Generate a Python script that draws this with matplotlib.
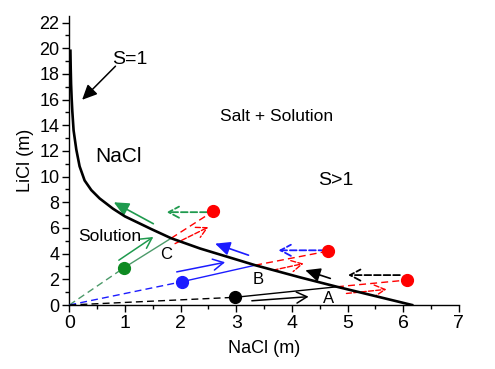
import matplotlib
matplotlib.use("Agg")
import matplotlib.pyplot as plt
from matplotlib.ticker import MultipleLocator

plt.rcParams['font.family'] = ['Liberation Sans', 'DejaVu Sans']

# solubility boundary (NaCl, LiCl)
curve_x = [0.02, 0.025, 0.032, 0.042, 0.054, 0.077, 0.126, 0.185, 0.275, 0.395, 0.545, 0.785,
           1.0, 1.48, 1.83, 2.35, 3.34, 4.15, 4.81, 6.16]
curve_y = [19.8, 18.5, 17.2, 16.1, 15.1, 13.6, 12.1, 10.8, 9.7, 8.95, 8.3, 7.5,
           6.9, 5.9, 5.2, 4.4, 3.1, 2.15, 1.42, 0.0]

# starting solutions (green, blue, black) and where they hit the boundary (C, B, A)
start_x = [0.99, 2.02, 2.98]
start_y = [2.92, 1.81, 0.60]
hit_x = [1.83, 3.34, 4.81]
hit_y = [5.20, 3.10, 1.42]
hit_labels = ['C', 'B', 'A']
label_x = [1.74, 3.40, 4.66]
label_y = [3.95, 2.00, 0.52]

# end points (red dots)
end_x = [2.59, 4.64, 6.06]
end_y = [7.31, 4.19, 1.94]

# solid open arrows along the path
path_arr_x0 = [0.89, 1.93, 3.28]
path_arr_y0 = [3.49, 2.58, 0.33]
path_arr_x1 = [1.51, 2.80, 4.30]
path_arr_y1 = [5.30, 3.33, 0.65]

# filled arrows back along the boundary
back_arr_x0 = [1.51, 3.22, 4.69]
back_arr_y0 = [6.33, 3.88, 2.07]
back_arr_x1 = [0.80, 2.62, 4.24]
back_arr_y1 = [8.00, 4.78, 2.71]

# red dashed arrows past the boundary
red_arr_x0 = [1.90, 3.66, 4.98]
red_arr_y0 = [4.78, 2.71, 0.90]
red_arr_x1 = [2.50, 4.21, 5.70]
red_arr_y1 = [6.07, 3.23, 1.22]

# dashed arrows pointing back from the red dots
left_arr_x0 = [2.47, 4.60, 5.94]
left_arr_y0 = [7.23, 4.26, 2.33]
left_arr_x1 = [1.75, 3.76, 5.01]
left_arr_y1 = [7.23, 4.26, 2.33]

# S=1 pointer
s1_text = (1.08, 19.1)
s1_arrow_tail = (0.83, 18.6)
s1_arrow_tip = (0.23, 15.98)

line_colors = ['#4c9a6a', '#1c1cff', 'black']
arrow_colors = ['#1f9a4e', '#1c1cff', 'black']
dot_colors = ['#0e8a22', '#1c1cff', 'black']
red = '#ff0000'
dash = (0, (5, 3))

fig = plt.figure(figsize=(4.95, 3.69), dpi=100)
ax = fig.add_axes([0.14, 0.1734, 0.787, 0.783])

ax.plot(curve_x, curve_y, color='black', lw=1.9, zorder=4, solid_joinstyle='round')

for i in range(3):
    c = line_colors[i]
    # dilution line from origin to starting point
    ax.plot([0, start_x[i]], [0, start_y[i]], color=c, lw=1.0, ls=dash, zorder=3)
    # evaporation path to the boundary
    ax.plot([start_x[i], hit_x[i]], [start_y[i], hit_y[i]], color=c, lw=1.0, zorder=3)
    # beyond boundary to red dot
    ax.plot([hit_x[i], end_x[i]], [hit_y[i], end_y[i]], color=red, lw=1.0, ls=dash, zorder=3)
    ax.plot(start_x[i], start_y[i], 'o', color=dot_colors[i], ms=8.5, zorder=5)
    ax.plot(end_x[i], end_y[i], 'o', color=red, ms=8.5, zorder=5)
    ax.text(label_x[i], label_y[i], hit_labels[i], fontsize=12, ha='center', va='center')

    ax.annotate('', xy=(path_arr_x1[i], path_arr_y1[i]), xytext=(path_arr_x0[i], path_arr_y0[i]),
                arrowprops=dict(arrowstyle='->,head_length=0.75,head_width=0.4', color=arrow_colors[i],
                                lw=1.1, shrinkA=0, shrinkB=0))
    ax.annotate('', xy=(back_arr_x1[i], back_arr_y1[i]), xytext=(back_arr_x0[i], back_arr_y0[i]),
                arrowprops=dict(arrowstyle='-|>,head_length=0.9,head_width=0.42', color=arrow_colors[i],
                                lw=1.2, shrinkA=0, shrinkB=0))
    ax.annotate('', xy=(red_arr_x1[i], red_arr_y1[i]), xytext=(red_arr_x0[i], red_arr_y0[i]),
                arrowprops=dict(arrowstyle='->,head_length=0.75,head_width=0.4', color=red,
                                lw=1.0, ls='--', shrinkA=0, shrinkB=0))
    ax.annotate('', xy=(left_arr_x1[i], left_arr_y1[i]), xytext=(left_arr_x0[i], left_arr_y0[i]),
                arrowprops=dict(arrowstyle='->,head_length=0.75,head_width=0.4', color=arrow_colors[i],
                                lw=1.3, ls='--', shrinkA=0, shrinkB=0))

ax.annotate('', xy=s1_arrow_tip, xytext=s1_arrow_tail,
            arrowprops=dict(arrowstyle='-|>,head_length=0.9,head_width=0.42', color='black',
                            lw=1.1, shrinkA=0, shrinkB=0))
ax.text(s1_text[0], s1_text[1], 'S=1', fontsize=14, ha='center', va='center')
ax.text(0.88, 11.6, 'NaCl', fontsize=15, ha='center', va='center')
ax.text(3.73, 14.7, 'Salt + Solution', fontsize=12.5, ha='center', va='center')
ax.text(4.78, 9.7, 'S>1', fontsize=14, ha='center', va='center')
ax.text(0.72, 5.35, 'Solution', fontsize=12.5, ha='center', va='center')

ax.set_xlim(0, 7)
ax.set_ylim(0, 22.5)
ax.xaxis.set_major_locator(MultipleLocator(1))
ax.xaxis.set_minor_locator(MultipleLocator(0.5))
ax.yaxis.set_major_locator(MultipleLocator(2))
ax.yaxis.set_minor_locator(MultipleLocator(1))
ax.spines['top'].set_visible(False)
ax.spines['right'].set_visible(False)
for s in ['left', 'bottom']:
    ax.spines[s].set_linewidth(1.0)
ax.tick_params(which='major', length=5, width=1.0, labelsize=13, pad=2)
ax.tick_params(which='minor', length=3, width=1.0)
ax.tick_params(axis='x', labelsize=14)
ax.set_xlabel('NaCl (m)', fontsize=13, labelpad=6)
ax.set_ylabel('LiCl (m)', fontsize=13, labelpad=4)

fig.savefig('out.png', dpi=100)
